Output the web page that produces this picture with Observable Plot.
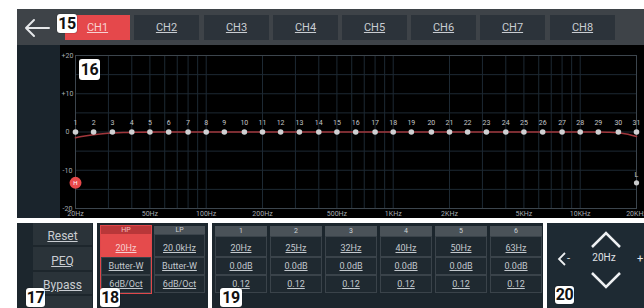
<!DOCTYPE html>
<html>
<head>
<meta charset="utf-8">
<script src="https://cdn.jsdelivr.net/npm/d3@7"></script>
<script src="https://cdn.jsdelivr.net/npm/@observablehq/plot@0.6"></script>
<style>
  html, body { margin:0; padding:0; background:#fff; }
  body { width:644px; height:308px; position:relative; overflow:hidden; font-family: Roboto, "Liberation Sans", sans-serif; }
  .abs { position:absolute; box-sizing:border-box; }
  .badge { position:absolute; background:#fff; color:#111; font-weight:700; font-size:16px; line-height:19px; text-align:center; border-radius:3px; box-shadow:0 0 1px #000; letter-spacing:-0.5px; }
  .tab { position:absolute; top:15px; width:65px; height:25px; background:#2c333a; color:#c9cdd2; font-size:11px; line-height:25px; text-align:center; text-decoration:underline; }
  .cell { position:absolute; box-sizing:border-box; border:1px solid #3a434a; background:#1f2930; color:#c3c8cd; text-align:center; text-decoration:underline; font-size:9px; }
  .hdr { position:absolute; box-sizing:border-box; background:#4a5258; color:#cfd3d6; text-align:center; font-size:7px; line-height:9px; }
</style>
</head>
<body>
<script>
// ---------- data ----------
const channels = ["CH1","CH2","CH3","CH4","CH5","CH6","CH7","CH8"];
const bandFreqs = [20,25,31.5,40,50,63,80,100,125,160,200,250,315,400,500,630,800,1000,1250,1600,2000,2500,3150,4000,5000,6300,8000,10000,12500,16000,20000];
const bandGains = [0,0,0,0,0,0,0,0,0,0,0,0,0,0,0,0,0,0,0,0,0,0,0,0,0,0,0,0,0,0,0];
const curveFreqs = [20,22,25,28,32,36,40,50,63,80,1000,12500,14000,16000,18000,20000];
const curveGains = [-1.5,-1.1,-0.7,-0.45,-0.25,-0.15,-0.1,-0.04,0,0,0,0,-0.05,-0.2,-0.6,-1.2];
const dbTicks = [-20,-10,0,10,20];
const dbGrid = [-20,-15,-10,-5,0,5,10,15,20];
const freqTicks = [20,50,100,200,500,1000,2000,5000,10000,20000];
const freqTickLabels = ["20Hz","50Hz","100Hz","200Hz","500Hz","1KHz","2KHz","5KHz","10KHz","20KHz"];
const freqGrid = [20,30,40,50,60,70,80,90,100,200,300,400,500,600,700,800,900,1000,2000,3000,4000,5000,6000,7000,8000,9000,10000,20000];
const hpMarker = {freq:20, gain:-13.3, label:"H"};
const lpMarker = {freq:20000, gain:-13.3, label:"L"};
const leftButtons = ["Reset","PEQ","Bypass"];
const hpRows = ["20Hz","Butter-W","6dB/Oct"];
const lpRows = ["20.0kHz","Butter-W","6dB/Oct"];
const peqNumbers = ["1","2","3","4","5","6"];
const peqFreqs = ["20Hz","25Hz","32Hz","40Hz","50Hz","63Hz"];
const peqGains = ["0.0dB","0.0dB","0.0dB","0.0dB","0.0dB","0.0dB"];
const peqQs = ["0.12","0.12","0.12","0.12","0.12","0.12"];
const navValue = "20Hz";

function el(tag, cls, style, text) {
  const e = document.createElement(tag);
  if (cls) e.className = cls;
  Object.assign(e.style, style || {});
  if (text != null) e.textContent = text;
  document.body.appendChild(e);
  return e;
}

// ---------- top bar ----------
el("div","abs",{left:"17px",top:"9px",width:"627px",height:"36px",background:"#3e4348"});
const arrow = document.createElementNS("http://www.w3.org/2000/svg","svg");
arrow.setAttribute("width","30"); arrow.setAttribute("height","24");
Object.assign(arrow.style,{position:"absolute",left:"22px",top:"16px"});
arrow.innerHTML = '<path d="M4 12 H27 M12 4 L4 12 L12 20" stroke="#e6e8ea" stroke-width="2" fill="none" stroke-linecap="round" stroke-linejoin="round"/>';
document.body.appendChild(arrow);
const tabLefts = [65,134,204,273,342,411,480,550];
channels.forEach((c,i) => {
  const t = el("div","tab",{left:tabLefts[i]+"px"}, c);
  if (i === 0) { t.style.background = "#e5484b"; t.style.color = "#f7d2d2"; }
});
el("div","badge",{left:"57px",top:"14px",width:"20px",height:"19px"},"15");

// ---------- chart ----------
el("div","abs",{left:"17px",top:"45px",width:"43px",height:"173px",background:"#1a242c"});
const bands = bandFreqs.map((f,i) => ({freq:f, gain:bandGains[i], n:String(i+1)}));
const curve = curveFreqs.map((f,i) => ({freq:f, gain:curveGains[i]}));
const labelColor = "#a7abb0";
const chart = Plot.plot({
  width:584, height:173,
  marginLeft:15, marginRight:8, marginTop:10, marginBottom:10,
  style:{background:"#000", fontFamily:"Roboto, 'Liberation Sans', sans-serif", overflow:"visible"},
  x:{type:"log", domain:[20,20000], axis:null},
  y:{domain:[-20,20], axis:null},
  marks:[
    Plot.ruleX(freqGrid, {x:d=>d, stroke:"#1d2933", strokeWidth:1}),
    Plot.ruleY(dbGrid, {y:d=>d, stroke:"#1d2933", strokeWidth:1}),
    Plot.frame({stroke:"#3c454d"}),
    Plot.text(dbTicks, {x:()=>20, y:d=>d, text:d => d>0 ? "+"+d : String(d), dx:-8, textAnchor:"middle", fill:labelColor, fontSize:7}),
    Plot.text(freqTicks, {x:d=>d, y:()=>-20, text:d => freqTickLabels[freqTicks.indexOf(d)], dy:5, textAnchor:"middle", fill:labelColor, fontSize:7}),
    Plot.line(curve, {x:"freq", y:"gain", stroke:"#a0363b", strokeWidth:1.6, curve:"monotone-x"}),
    Plot.dot(bands, {x:"freq", y:"gain", r:2.8, fill:"#cfd0d2", stroke:"none"}),
    Plot.text(bands, {x:"freq", y:"gain", text:"n", dy:-9, fill:"#c4c6c9", fontSize:7}),
    Plot.dot([hpMarker], {x:"freq", y:"gain", r:6, fill:"#e8494b", stroke:"none"}),
    Plot.text([hpMarker], {x:"freq", y:"gain", text:"label", fill:"#fff", fontSize:6}),
    Plot.dot([lpMarker], {x:"freq", y:"gain", r:2.6, fill:"#c9cacc", stroke:"none"}),
    Plot.text([lpMarker], {x:"freq", y:"gain", text:"label", dy:-8, fill:"#c4c6c9", fontSize:7})
  ]
});
Object.assign(chart.style,{position:"absolute",left:"60px",top:"45px"});
document.body.appendChild(chart);
el("div","badge",{left:"79px",top:"59px",width:"21px",height:"21px",lineHeight:"21px"},"16");

// ---------- panel 17 ----------
el("div","abs",{left:"17px",top:"223px",width:"76px",height:"85px",background:"#1c262d"});
el("div","abs",{left:"33px",top:"223px",width:"59px",height:"85px",background:"#2a3339"});
leftButtons.forEach((b,i) => {
  el("div","abs",{left:"33px",top:(224+i*24.5)+"px",width:"59px",height:"23px",borderBottom:"2px solid #1d262c",color:"#c9cdd2",fontSize:"12px",lineHeight:"24px",textAlign:"center",textDecoration:"underline"}, b);
});
el("div","badge",{left:"26px",top:"288px",width:"19px",height:"19px"},"17");

// ---------- panel 18 ----------
el("div","abs",{left:"97px",top:"223px",width:"111px",height:"85px",background:"#1c262d"});
function filterCol(left, width, title, rows, active) {
  el("div","hdr",{left:left+"px",top:"226px",width:width+"px",height:"8px",lineHeight:"8px",background: active ? "#b93739" : "#4a5258", color: active ? "#f2c6c6" : "#cfd3d6"}, title);
  const tops = [234,257,275], hs = [23,18,18];
  rows.forEach((r,i) => {
    const c = el("div","cell",{left:left+"px",top:tops[i]+"px",width:width+"px",height:hs[i]+"px",lineHeight:(hs[i]-2)+"px"}, r);
    if (i===0) c.style.paddingTop = "3px";
    if (active && i===0) { c.style.background="#e54b4c"; c.style.color="#f7cfcf"; c.style.borderColor="#e54b4c"; }
  });
  if (active) el("div","abs",{left:(left-1)+"px",top:"225px",width:(width+2)+"px",height:"69px",border:"1px solid #e0474a"});
}
filterCol(101, 50, "HP", hpRows, true);
filterCol(154, 51, "LP", lpRows, false);
el("div","badge",{left:"100px",top:"288px",width:"20px",height:"19px"},"18");

// ---------- panel 19 ----------
el("div","abs",{left:"212px",top:"223px",width:"331px",height:"85px",background:"#1c262d"});
peqNumbers.forEach((n,i) => {
  const left = 215 + i*55;
  el("div","hdr",{left:left+"px",top:"226px",width:"52px",height:"10px",lineHeight:"10px"}, n);
  [peqFreqs[i], peqGains[i], peqQs[i]].forEach((v,j) => {
    const tops=[236,257,275], hs=[21,18,18];
    el("div","cell",{left:left+"px",top:tops[j]+"px",width:"52px",height:hs[j]+"px",lineHeight:(hs[j]-2)+"px"}, v).style.paddingTop = j===0 ? "2px" : "0";
  });
});
el("div","badge",{left:"220px",top:"288px",width:"22px",height:"19px"},"19");

// ---------- panel 20 ----------
el("div","abs",{left:"547px",top:"223px",width:"97px",height:"85px",background:"#1e2a33"});
const nav = document.createElementNS("http://www.w3.org/2000/svg","svg");
nav.setAttribute("width","97"); nav.setAttribute("height","85");
Object.assign(nav.style,{position:"absolute",left:"547px",top:"223px"});
nav.innerHTML = '<path d="M45 24 L59 10 L73 24" stroke="#eef0f2" stroke-width="2.5" fill="none"/>' +
  '<path d="M45 50 L59 64 L73 50" stroke="#eef0f2" stroke-width="2.5" fill="none"/>' +
  '<path d="M18 30 L12 36 L18 42" stroke="#eef0f2" stroke-width="1.8" fill="none"/>' +
  '<path d="M100 30 L106 36 L100 42" stroke="#eef0f2" stroke-width="1.8" fill="none"/>';
document.body.appendChild(nav);
el("div","abs",{left:"567px",top:"252px",fontSize:"11px",color:"#e6e8ea"},"-");
el("div","abs",{left:"637px",top:"252px",fontSize:"11px",color:"#e6e8ea"},"+");
el("div","abs",{left:"584px",top:"252px",width:"40px",textAlign:"center",fontSize:"10px",color:"#e0e3e6"}, navValue);
el("div","badge",{left:"555px",top:"286px",width:"19px",height:"18px",lineHeight:"18px"},"20");
</script>
</body>
</html>
